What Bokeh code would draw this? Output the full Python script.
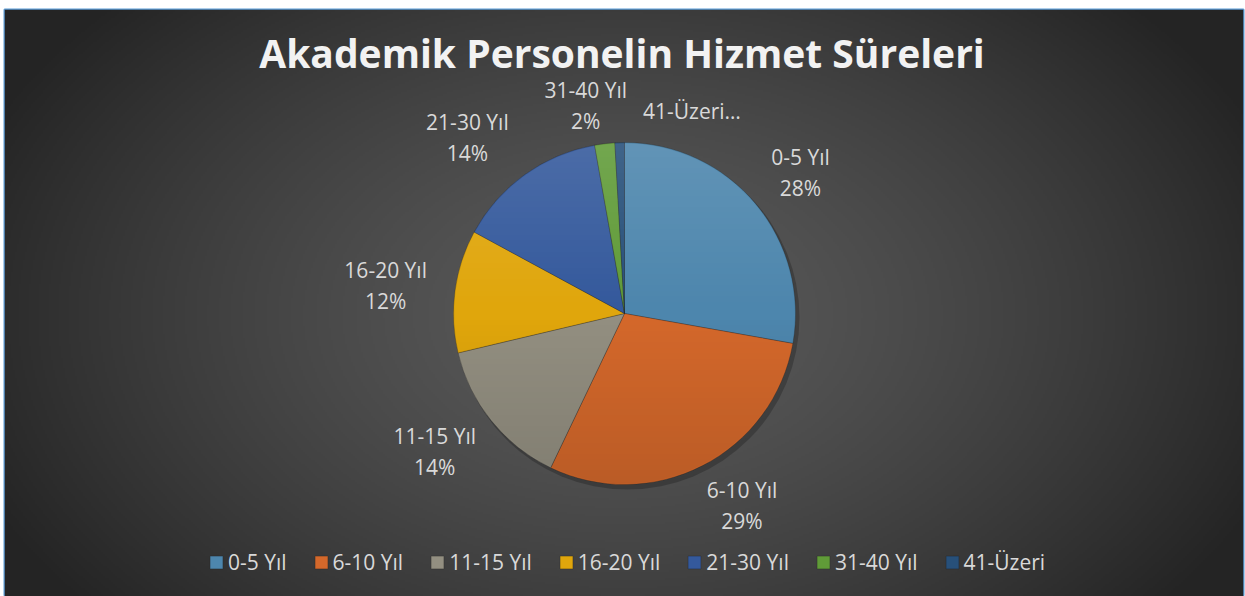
import numpy as np
from bokeh.plotting import figure
from bokeh.models import ColumnDataSource, Range1d, Legend, LegendItem, Label
from bokeh.core.properties import value
from bokeh.embed import file_html
from bokeh.resources import INLINE

# ---------------- data ----------------
title_text = "Akademik Personelin Hizmet Süreleri"
categories = ["0-5 Yıl", "6-10 Yıl", "11-15 Yıl", "16-20 Yıl", "21-30 Yıl", "31-40 Yıl", "41-Üzeri"]
shares = [27.8, 29.3, 14.2, 11.6, 14.3, 1.9, 0.9]
label_names = ["0-5 Yıl", "6-10 Yıl", "11-15 Yıl", "16-20 Yıl", "21-30 Yıl", "31-40 Yıl", "41-Üzeri…"]
show_pct = [True, True, True, True, True, True, False]
colors = ["#4d86ad", "#d4682b", "#938f81", "#e0a60c", "#34599c", "#609b38", "#27507a"]

# ---------------- layout helpers ----------------
FW, FH = 1245, 596
BL, BR, BT = 4, 2, 9          # white borders around the chart area
H = FH - BT                   # data height = frame height
def px(x):
    return x
def py(y):
    return FH - y

CX, CY, R = px(624), py(313), 171
LABEL_K = 1.35
LINE_GAP = 15.5
# per-label nudges in page pixels (dx, dy downwards)
label_nudge = [(-1, 7), (12, -13), (-10, -7), (-10, 2), (-22, 11), (-12, 21), (74, 28)]

p = figure(width=FW, height=FH, x_range=Range1d(BL, FW - BR), y_range=Range1d(0, H),
           x_axis_type=None, y_axis_type=None, output_backend="svg",
           toolbar_location=None, min_border=0,
           min_border_left=BL, min_border_right=BR, min_border_top=BT, min_border_bottom=0)
p.outline_line_color = "#5b9bd5"
p.outline_line_width = 2
p.background_fill_color = "#3a3a3a"
p.border_fill_color = "#ffffff"

# ---------------- background radial gradient ----------------
s = 2
W = FW - BL - BR
gh, gw = H // s, W // s
yy, xx = np.mgrid[0:gh, 0:gw].astype(float)
xx = BL + (xx + 0.5) * s
yy = (yy + 0.5) * s
gx, gy = px(622), py(315)
d = np.sqrt(((xx - gx) / 700.0) ** 2 + ((yy - gy) / 460.0) ** 2)
b = (36 + 54 * (1 - np.clip(d, 0, 1) ** 1.4)).astype(np.uint8)
bg = np.zeros((gh, gw), dtype=np.uint32)
v = bg.view(np.uint8).reshape(gh, gw, 4)
v[..., 0] = b
v[..., 1] = b
v[..., 2] = b
v[..., 3] = 255
p.image_rgba(image=[bg], x=BL, y=0, dw=W, dh=H)

# ---------------- pie ----------------
frac = np.array(shares) / np.sum(shares)
cum = np.concatenate([[0.0], np.cumsum(frac)])
start = np.pi / 2 - 2 * np.pi * cum[1:]
end = np.pi / 2 - 2 * np.pi * cum[:-1]

# soft shadow
p.circle(x=[CX + 3], y=[CY - 4], radius=R + 1, fill_color="black", fill_alpha=0.22, line_alpha=0)

src = ColumnDataSource(dict(x=[CX] * len(categories), y=[CY] * len(categories),
                            start=start, end=end, color=colors, cat=categories))
wedges = p.wedge(x="x", y="y", radius=R, start_angle="start", end_angle="end",
                 fill_color="color", line_color="#1e1e1e", line_alpha=0.35, line_width=0.8,
                 source=src)

# lighting overlay (top lighter, bottom darker)
n = 2 * R
oy, ox = np.mgrid[0:n, 0:n].astype(float)
ox += 0.5
oy += 0.5
rr = np.sqrt((ox - R) ** 2 + (oy - R) ** 2)
mask = np.clip(R - rr, 0, 1)
t = (oy - R) / R
alpha = np.where(t > 0, 0.12 * t, 0.12 * (-t)) * mask
shade = np.where(t > 0, 255, 0)
ov = np.zeros((n, n), dtype=np.uint32)
ovv = ov.view(np.uint8).reshape(n, n, 4)
ovv[..., 0] = shade
ovv[..., 1] = shade
ovv[..., 2] = shade
ovv[..., 3] = (alpha * 255).astype(np.uint8)
p.image_rgba(image=[ov], x=CX - R, y=CY - R, dw=n, dh=n)

# ---------------- data labels ----------------
mid = 2 * np.pi * (cum[:-1] + cum[1:]) / 2
lx = CX + LABEL_K * R * np.sin(mid) + np.array([nd[0] for nd in label_nudge])
ly = CY + LABEL_K * R * np.cos(mid) - np.array([nd[1] for nd in label_nudge])
pct = [f"{int(round(f * 100))}%" for f in frac]

name_y = [y + LINE_GAP if sp else y for y, sp in zip(ly, show_pct)]
pct_y = [y - LINE_GAP for y in ly]
lab_src = ColumnDataSource(dict(x=lx, ny=name_y, py=pct_y, name=label_names,
                                pct=[pc if sp else "" for pc, sp in zip(pct, show_pct)]))
p.text(x="x", y="ny", text="name", source=lab_src, text_align="center",
       text_baseline="middle", text_color="#d9d9d9", text_font=value("Open Sans"),
       text_font_size="21px")
p.text(x="x", y="py", text="pct", source=lab_src, text_align="center",
       text_baseline="middle", text_color="#d9d9d9", text_font=value("Open Sans"),
       text_font_size="21px")

# ---------------- title ----------------
title = Label(x=px(621.5), y=py(52), text=title_text, text_align="center",
              text_baseline="middle", text_font="Open Sans", text_font_style="bold",
              text_font_size="39px", text_color="#f2f2f2")
p.add_layout(title)

# ---------------- legend ----------------
items = [LegendItem(label=c, renderers=[wedges], index=i) for i, c in enumerate(categories)]
legend = Legend(items=items, orientation="horizontal", location=(204, 20),
                glyph_width=16, glyph_height=16, label_standoff=4, spacing=26,
                padding=0, margin=0, background_fill_alpha=0, border_line_alpha=0,
                label_text_color="#d9d9d9", label_text_font="Open Sans",
                label_text_font_size="21px")
p.add_layout(legend, "center")

open("out.html", "w").write(file_html(p, INLINE))
